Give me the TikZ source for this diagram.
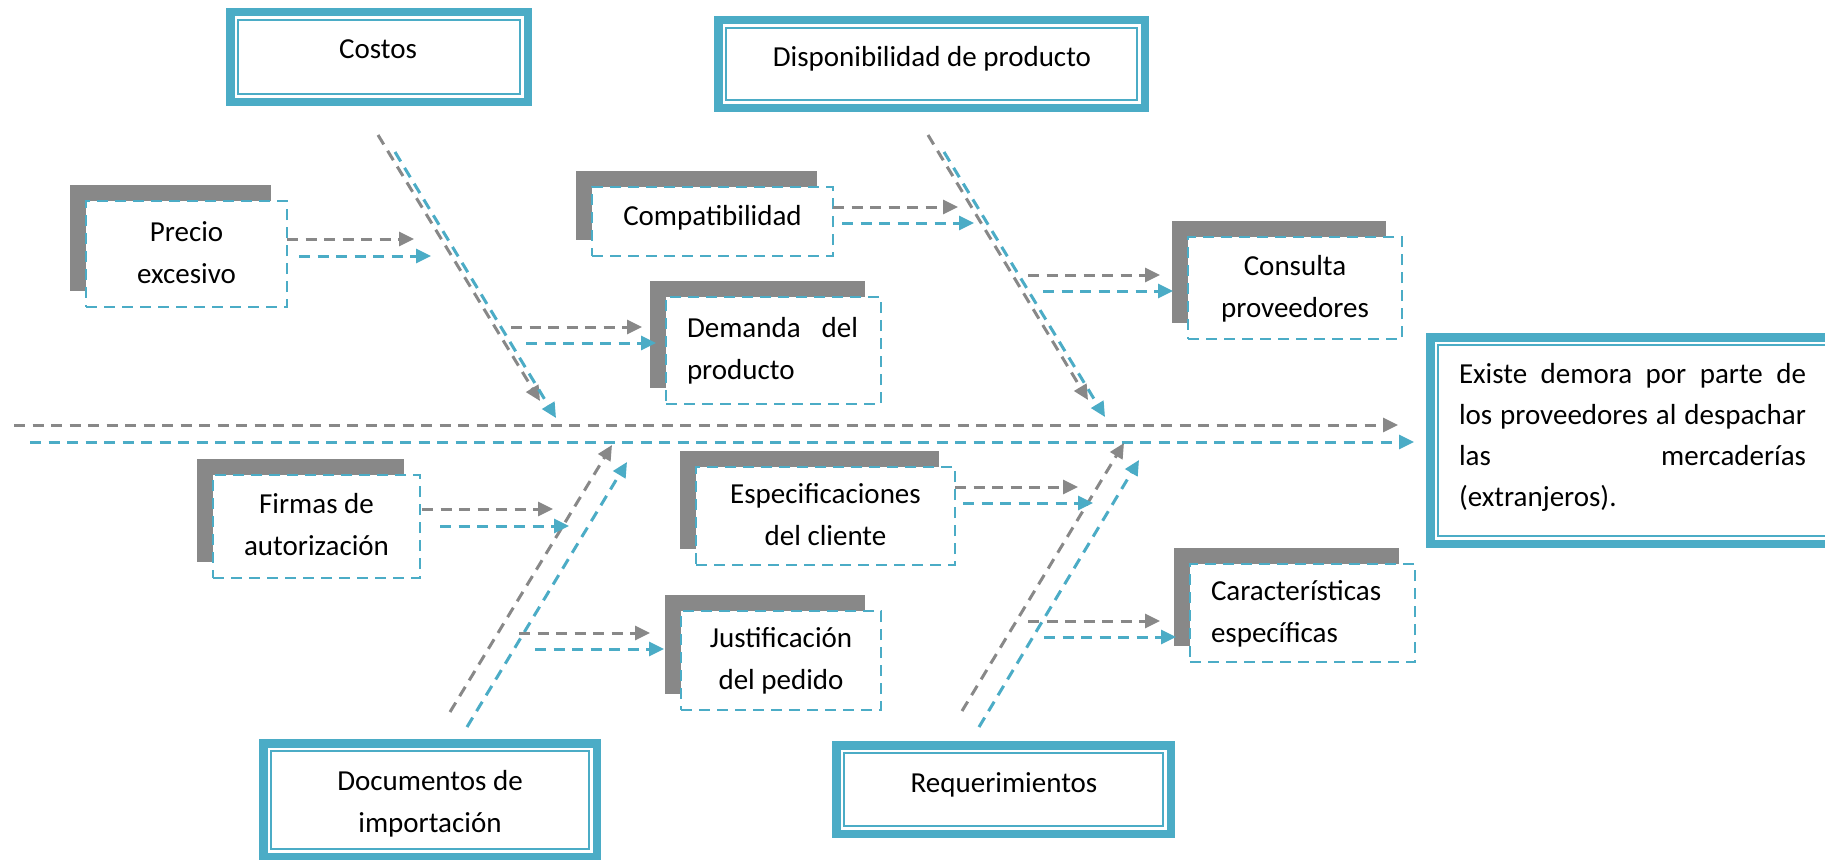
\documentclass[tikz,border=0pt]{standalone}
\usepackage{fontspec}
\setmainfont{Carlito}
\usetikzlibrary{arrows.meta,shadows}
\definecolor{aqua}{RGB}{75,172,198}
\definecolor{shade}{RGB}{136,136,136}
\begin{document}
\begin{tikzpicture}[x=1pt,y=-1pt,
  every node/.style={inner sep=0pt, outer sep=0pt},
  txt/.style={font=\fontsize{29}{42}\selectfont, align=center},
  dashln/.style={line width=3pt, dash pattern=on 11pt off 7.5pt},
  grayarr/.style={dashln, draw=shade, -{Triangle[length=15pt,width=14pt]}, fill=none},
  bluearr/.style={dashln, draw=aqua, -{Triangle[length=15pt,width=14pt]}, fill=none},
  subbox/.style={draw=aqua, fill=white, line width=2.8pt, dash pattern=on 11pt off 7pt,
    general shadow={fill=shade, shadow xshift=-16pt, shadow yshift=16pt},
    font=\fontsize{29}{42}\selectfont, align=center},
  catbox/.style={draw=aqua, line width=8.5pt, fill=white},
  catinner/.style={draw=aqua, line width=2.5pt},
]
\useasboundingbox (0,0) rectangle (1825,859);
\clip (0,0) rectangle (1825,859);
\fill[white] (0,0) rectangle (1825,859);

% ---------- spine ----------
\coordinate (sg0) at (14,425);  \coordinate (sg1) at (1398,425);
\coordinate (sb0) at (30,442);  \coordinate (sb1) at (1414,442);
\draw[grayarr] (sg0) -- (sg1);
\draw[bluearr] (sb0) -- (sb1);

% ---------- category boxes ----------
\node[catbox, minimum width=297.5pt, minimum height=89.5pt] (costos) at (379,57) {};
\node[catbox, minimum width=426.5pt, minimum height=87.5pt] (disp) at (931.5,64) {};
\node[catbox, minimum width=333.5pt, minimum height=113.5pt] (docs) at (430,800) {};
\node[catbox, minimum width=334.5pt, minimum height=88.5pt] (req) at (1003.5,789.5) {};
\node[catbox, minimum width=405.5pt, minimum height=206.5pt] (efecto) at (1633,440.5) {};
\foreach \b in {costos,disp,docs,req,efecto}{
  \draw[catinner] ([shift={(7.75,7.75)}]\b.north west) rectangle ([shift={(-7.75,-7.75)}]\b.south east);
}
\node[txt, anchor=north] (costosT) at (378,29.6) {\strut Costos};
\node[txt, anchor=north] (dispT) at (932,37.6) {\strut Disponibilidad de producto};
\node[txt, anchor=north] (docsT) at (430,760.6) {\strut Documentos de\\\strut importación};
\node[txt, anchor=north] (reqT) at (1004,762.6) {\strut Requerimientos};
\node[font=\fontsize{29}{41.3}\selectfont, align=left, text width=347pt, anchor=north west] (efectoT) at (1459,354.1)
  {\strut\makebox[347pt][s]{Existe\hfill demora\hfill por\hfill parte\hfill de}\\
   \strut\makebox[347pt][s]{los\hfill proveedores\hfill al\hfill despachar}\\
   \strut las\hfill mercaderías\\
   \strut (extranjeros).};

% ---------- diagonals ----------
\coordinate (cg1) at (378,135);  \coordinate (cg2) at (540,401);
\coordinate (cb1) at (395,152);  \coordinate (cb2) at (556,418);
\coordinate (dg1) at (928,135);  \coordinate (dg2) at (1088,400);
\coordinate (db1) at (944,152);  \coordinate (db2) at (1105,417);
\coordinate (ig1) at (450,712);  \coordinate (ig2) at (612,445);
\coordinate (ib1) at (467,727);  \coordinate (ib2) at (627,462);
\coordinate (rg1) at (962,711);  \coordinate (rg2) at (1124,443);
\coordinate (rb1) at (979,727);  \coordinate (rb2) at (1139,460);
\draw[grayarr] (cg1) -- (cg2);  \draw[bluearr] (cb1) -- (cb2);
\draw[grayarr] (dg1) -- (dg2);  \draw[bluearr] (db1) -- (db2);
\draw[grayarr] (ig1) -- (ig2);  \draw[bluearr] (ib1) -- (ib2);
\draw[grayarr] (rg1) -- (rg2);  \draw[bluearr] (rb1) -- (rb2);

% ---------- cause boxes ----------
\node[subbox, minimum width=201pt, minimum height=106pt] (precio) at (186.5,254) {\strut Precio\\\strut excesivo};
\node[subbox, minimum width=241pt, minimum height=69pt, text height=22pt, text depth=15pt] (compat) at (712.5,221.5) {Compatibilidad};
\node[subbox, minimum width=215pt, minimum height=107pt, text width=173pt, align=left] (demanda) at (773.5,350.5)
  {\strut\makebox[171pt][s]{Demanda\hfill del}\\\strut producto};
\node[subbox, minimum width=214pt, minimum height=102pt] (consulta) at (1295,288) {\strut Consulta\\\strut proveedores};
\node[subbox, minimum width=207pt, minimum height=103pt] (firmas) at (316.5,526.5) {\strut Firmas de\\\strut autorización};
\node[subbox, minimum width=259pt, minimum height=98pt] (espec) at (825.5,516) {\strut Especificaciones\\\strut del cliente};
\node[subbox, minimum width=200pt, minimum height=99pt] (justif) at (781,660.5) {\strut Justificación\\\strut del pedido};
\node[subbox, minimum width=225pt, minimum height=98pt, text width=183pt, align=left] (caract) at (1302.5,613)
  {\strut Características\\\strut específicas};

% ---------- side arrows ----------
\coordinate (pgT) at (414,239);  \coordinate (pbT) at (431,256);
\draw[grayarr] (precio.east |- pgT) -- (pgT);
\draw[bluearr] ([xshift=12pt]precio.east |- pbT) -- (pbT);

\coordinate (cgT) at (958,207);  \coordinate (cbT) at (974,223);
\draw[grayarr] (compat.east |- cgT) -- (cgT);
\draw[bluearr] ([xshift=9pt]compat.east |- cbT) -- (cbT);

\coordinate (fgT) at (553,509);  \coordinate (fbT) at (569,526);
\draw[grayarr] ([xshift=2pt]firmas.east |- fgT) -- (fgT);
\draw[bluearr] ([xshift=20pt]firmas.east |- fbT) -- (fbT);

\coordinate (egT) at (1078,487); \coordinate (ebT) at (1093,503);
\draw[grayarr] (espec.east |- egT) -- (egT);
\draw[bluearr] ([xshift=8pt]espec.east |- ebT) -- (ebT);

\coordinate (mgS) at (511,327);  \coordinate (mbS) at (526,343);
\draw[grayarr] (mgS) -- ([xshift=-24pt]demanda.west |- mgS);
\draw[bluearr] (mbS) -- ([xshift=-10pt]demanda.west |- mbS);

\coordinate (kgS) at (1028,275); \coordinate (kbS) at (1043,291);
\draw[grayarr] (kgS) -- ([xshift=-28pt]consulta.west |- kgS);
\draw[bluearr] (kbS) -- ([xshift=-15pt]consulta.west |- kbS);

\coordinate (jgS) at (519,633);  \coordinate (jbS) at (535,649);
\draw[grayarr] (jgS) -- ([xshift=-31pt]justif.west |- jgS);
\draw[bluearr] (jbS) -- ([xshift=-17pt]justif.west |- jbS);

\coordinate (agS) at (1028,621); \coordinate (abS) at (1044,637);
\draw[grayarr] (agS) -- ([xshift=-30pt]caract.west |- agS);
\draw[bluearr] (abS) -- ([xshift=-14pt]caract.west |- abS);
\end{tikzpicture}
\end{document}
